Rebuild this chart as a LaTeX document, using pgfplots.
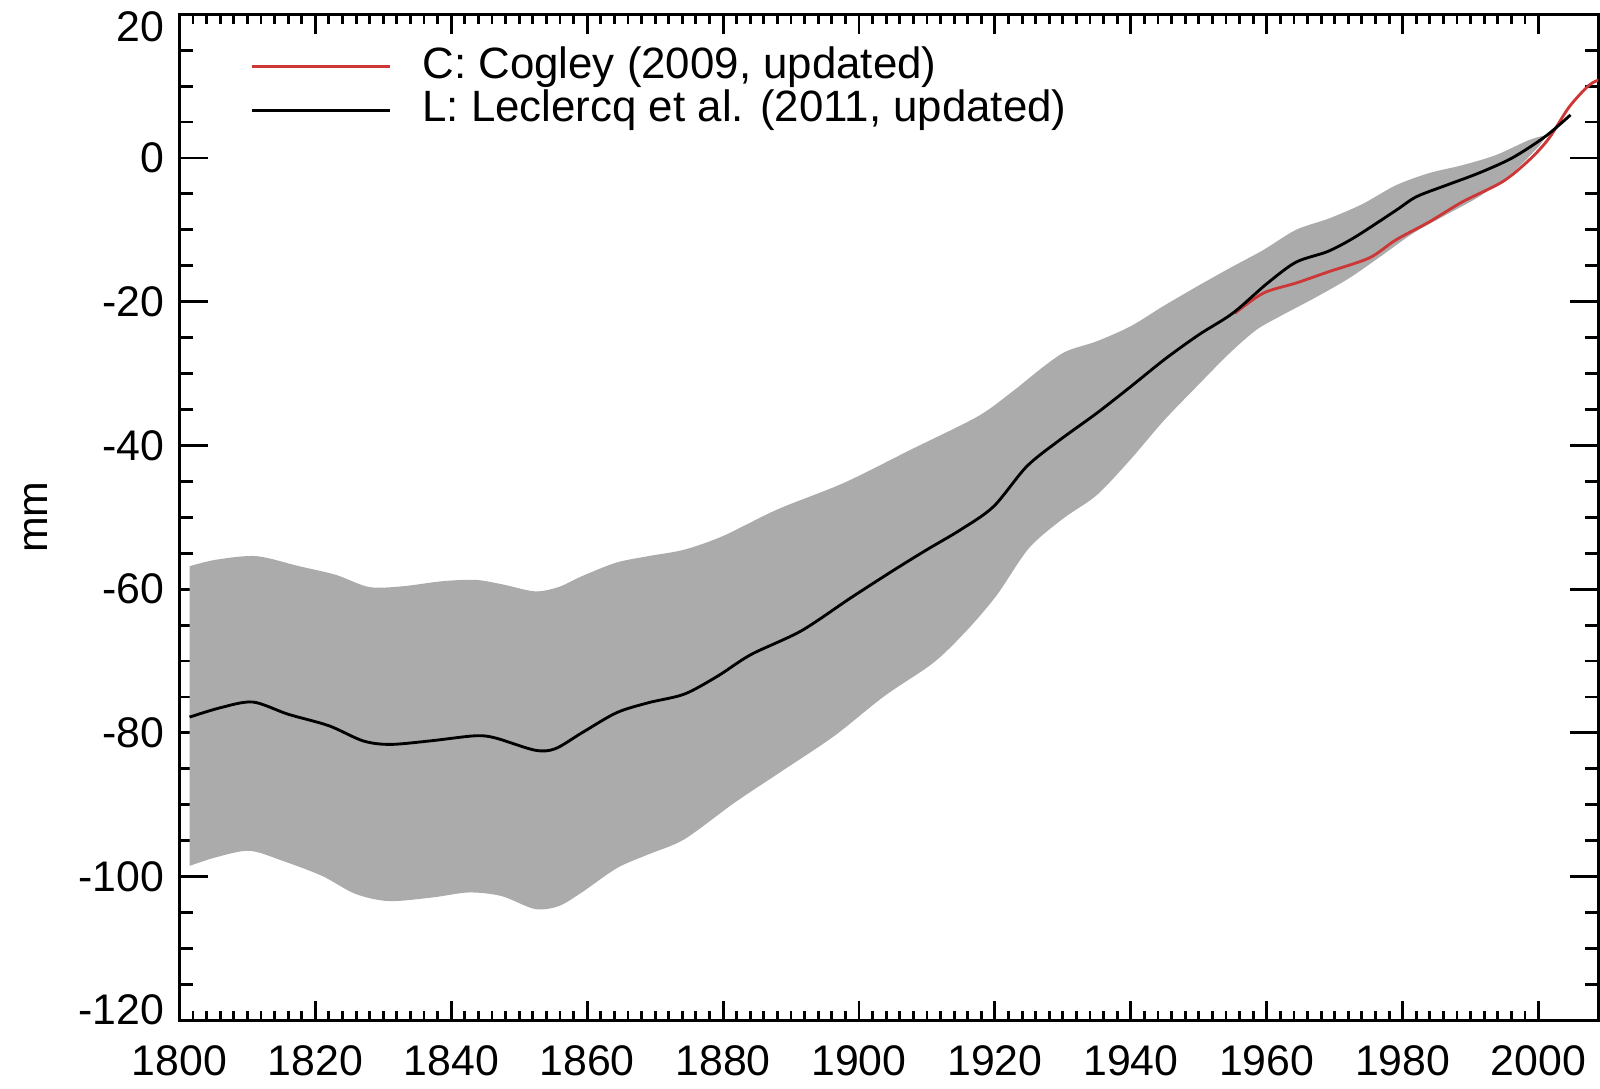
\documentclass[border=0pt]{standalone}
\usepackage{pgfplots}
\pgfplotsset{compat=1.18}
\usepgfplotslibrary{fillbetween}
\usepackage{fontspec}
\setmainfont{Liberation Sans}
\definecolor{bandgray}{RGB}{171,171,171}
\definecolor{cred}{RGB}{205,55,55}
\begin{document}
\fontsize{10.5}{12}\selectfont
\begin{tikzpicture}
\begin{axis}[
  width=348pt, height=246.75pt, scale only axis,
  xmin=1800, xmax=2008.8, ymin=-120, ymax=20,
  xtick={1800,1820,...,2000}, minor x tick num=9,
  ytick={-120,-100,...,20}, minor y tick num=3,
  tick align=inside, xtick pos=both, ytick pos=both,
  xticklabel pos=lower, yticklabel pos=left,
  /pgf/number format/assume math mode=true,
  /pgf/number format/1000 sep={},
  tick label style={font=\fontsize{10.5}{12}\selectfont},
  xticklabel style={yshift=-2.5pt},
  yticklabel={\ifnum\ticknum=7 \raisebox{-3pt}[\height][\depth]{\pgfmathprintnumber{\tick}}\else\ifnum\ticknum=0 \raisebox{2.5pt}[\height][\depth]{\pgfmathprintnumber{\tick}}\else\pgfmathprintnumber{\tick}\fi\fi},
  axis line style={line width=0.8pt},
  every tick/.style={black, line width=0.7pt},
  xtick style={/pgfplots/major tick length=4.8pt, /pgfplots/minor tick length=2.4pt},
  ytick style={/pgfplots/major tick length=7pt, /pgfplots/minor tick length=3.3pt},
  ylabel={mm},
  every axis y label/.style={at={(axis description cs:-0.1013,0.5)}, rotate=90, anchor=center, font=\fontsize{10.5}{12}\selectfont},
  legend style={at={(axis description cs:0.050,0.9690)}, anchor=north west, draw=none, fill=none,
    inner sep=0pt, outer sep=0pt, row sep=0.25pt, font=\fontsize{10.75}{12}\selectfont,
    nodes={text height=7.5pt, text depth=2pt, inner sep=0.5pt},
    /tikz/every odd column/.append style={column sep=7pt}},
  legend cell align=left,
  legend image code/.code={\draw[#1] (0pt,0pt) -- (34pt,0pt);},
  clip=true,
]
\addplot[name path=U, draw=none, forget plot, smooth] coordinates {
(1801.5,-56.8) (1805.4,-55.9) (1811.3,-55.4) (1817.6,-56.8) (1823,-58.0) (1827.9,-59.7)
(1832.8,-59.6) (1838.6,-58.9) (1843.5,-58.7) (1847.4,-59.3) (1852.3,-60.3) (1855.8,-59.7)
(1859.2,-58.2) (1864.3,-56.3) (1869,-55.4) (1874.3,-54.5) (1880,-52.6) (1888,-48.9)
(1897.8,-45.2) (1907.6,-40.6) (1917.4,-36.0) (1922.3,-32.7) (1927.2,-29.0) (1930.5,-26.9)
(1935,-25.5) (1940,-23.4) (1944.8,-20.6) (1949.7,-17.9) (1954.6,-15.3) (1959.5,-12.8)
(1964.3,-10.0) (1969.2,-8.4) (1974.1,-6.4) (1979,-3.8) (1983.9,-2.1) (1988.8,-1.0)
(1993.7,0.4) (1998.6,2.5) (2001.2,3.2)
};
\addplot[name path=L, draw=none, forget plot, smooth] coordinates {
(1801.5,-98.5) (1805.4,-97.3) (1810.3,-96.4) (1815.2,-97.8) (1821,-99.9) (1825.9,-102.4)
(1830.8,-103.4) (1837.2,-102.9) (1842.6,-102.2) (1847.4,-102.7) (1852.3,-104.5) (1855.8,-104.1)
(1859.2,-102.2) (1864.4,-98.8) (1869,-96.9) (1874.3,-94.8) (1881.7,-89.7) (1889,-85.1)
(1896.4,-80.4) (1903.7,-74.9) (1911,-70.2) (1916,-65.6) (1920.3,-60.8) (1925,-54.3)
(1930,-50.2) (1935,-46.9) (1940,-41.9) (1944.8,-36.6) (1950,-31.5) (1954.6,-27.1)
(1958.5,-23.9) (1962,-22.0) (1967,-19.5) (1972,-16.8) (1976.6,-13.8) (1981.5,-10.5)
(1986.4,-7.9) (1991.2,-5.4) (1996.1,-2.1) (2000,1.6) (2001.2,3.2)
};
\addplot[fill=bandgray, draw=none, forget plot] fill between[of=U and L];
\addplot[cred, line width=0.7pt, smooth] coordinates {
(1955.3,-21.6) (1959.5,-18.8) (1964.3,-17.4) (1969.2,-15.8) (1975.1,-13.9) (1979,-11.4)
(1983.9,-8.9) (1988.8,-6.1) (1994.7,-3.3) (1998.6,-0.3) (2001.5,2.7) (2004.5,7.1)
(2007.4,10.1) (2009,10.9)
};
\addlegendentry{C: Cogley (2009, updated)}
\addplot[black, line width=0.7pt, smooth] coordinates {
(1801.5,-77.8) (1806,-76.5) (1810.8,-75.7) (1816,-77.4) (1822,-79.0) (1827,-81.1)
(1831,-81.6) (1837,-81.1) (1843.5,-80.4) (1846.5,-80.7) (1852.3,-82.4) (1855.3,-82.2)
(1859.2,-80.0) (1864.3,-77.2) (1869,-75.8) (1874.3,-74.6) (1879.2,-72.1) (1884.1,-69.1)
(1891.5,-65.8) (1898.8,-61.2) (1905.2,-57.3) (1910,-54.5) (1915,-51.7) (1919.8,-48.5)
(1924.7,-42.9) (1929.6,-39.2) (1935,-35.5) (1940,-31.8) (1945,-28.0) (1950,-24.6)
(1955,-21.6) (1960,-17.5) (1964.3,-14.5) (1969,-13.0) (1973,-11.0) (1979,-7.3)
(1982,-5.4) (1986.4,-3.8) (1991.2,-2.1) (1996.1,0.0) (2001,3.0) (2004.7,6.0)
};
\addlegendentry{L: Leclercq et al. (2011, updated)}
\end{axis}
\pgfresetboundingbox
\path ([xshift=-44pt,yshift=-16.75pt]current axis.south west) rectangle ([xshift=0.4pt,yshift=3.5pt]current axis.north east);
\end{tikzpicture}
\end{document}
